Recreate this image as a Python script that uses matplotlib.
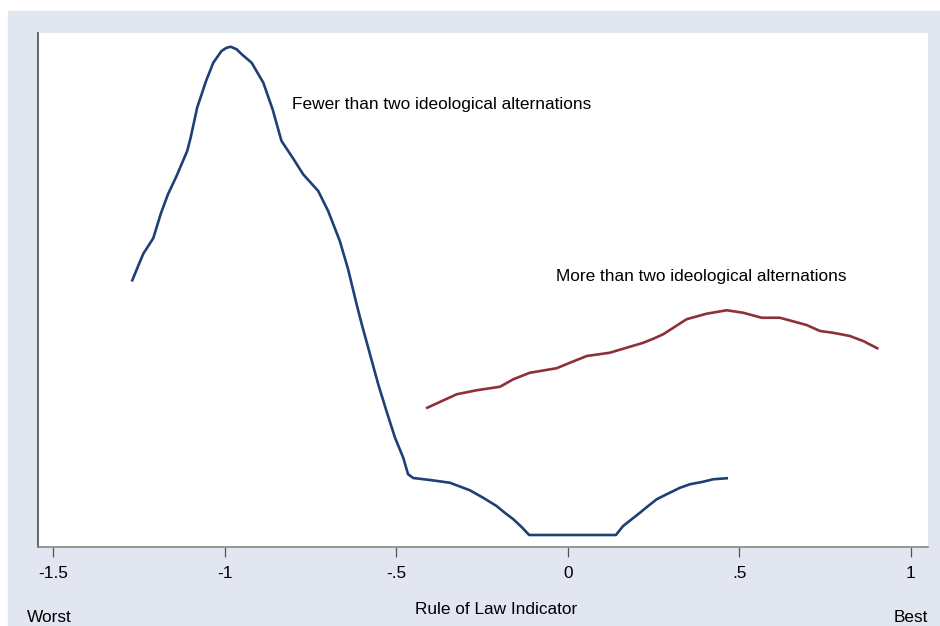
import matplotlib.pyplot as plt
from matplotlib.patches import Rectangle

plt.rcParams['font.family'] = ['Liberation Sans', 'DejaVu Sans']

# Rule of law indicator (x) and kernel density (y)
few_x = [-1.270, -1.253, -1.238, -1.209, -1.187, -1.166, -1.141, -1.110, -1.100,
         -1.081, -1.055, -1.034, -1.010, -0.995, -0.983, -0.966, -0.951, -0.922,
         -0.888, -0.861, -0.835, -0.801, -0.772, -0.728, -0.699, -0.665, -0.641,
         -0.616, -0.601, -0.577, -0.553, -0.529, -0.504, -0.480, -0.466, -0.451,
         -0.402, -0.344, -0.286, -0.247, -0.208, -0.184, -0.159, -0.135, -0.113,
         0.140, 0.161, 0.186, 0.210, 0.234, 0.259, 0.288, 0.327, 0.356, 0.394,
         0.424, 0.463]
few_y = [1.067, 1.124, 1.173, 1.235, 1.333, 1.411, 1.484, 1.584, 1.637, 1.757,
         1.864, 1.937, 1.984, 1.997, 2.001, 1.991, 1.971, 1.937, 1.857, 1.751,
         1.624, 1.554, 1.491, 1.424, 1.344, 1.224, 1.112, 0.971, 0.891, 0.771,
         0.651, 0.544, 0.437, 0.357, 0.291, 0.276, 0.268, 0.257, 0.227, 0.197,
         0.164, 0.137, 0.111, 0.080, 0.048, 0.048, 0.084, 0.111, 0.137, 0.164,
         0.191, 0.211, 0.237, 0.251, 0.261, 0.271, 0.275]

more_x = [-0.410, -0.324, -0.266, -0.198, -0.159, -0.111, -0.033, 0.006, 0.055,
          0.122, 0.220, 0.249, 0.278, 0.346, 0.404, 0.463, 0.511, 0.565, 0.618,
          0.696, 0.735, 0.773, 0.822, 0.861, 0.902]
more_y = [0.557, 0.611, 0.627, 0.641, 0.671, 0.697, 0.715, 0.737, 0.764, 0.777,
          0.817, 0.833, 0.851, 0.911, 0.933, 0.947, 0.937, 0.917, 0.917, 0.888,
          0.864, 0.857, 0.844, 0.824, 0.795]

x_ticks = [-1.5, -1, -0.5, 0, 0.5, 1]
x_tick_labels = ['-1.5', '-1', '-.5', '0', '.5', '1']

fs = 12.4

fig = plt.figure(figsize=(9.4, 6.26), dpi=100)
fig.patches.append(Rectangle((8 / 940, 0), 1, (626 - 11) / 626,
                             transform=fig.transFigure, color='#e1e6f0', zorder=-5))

ax = fig.add_axes([38 / 940, 1 - 547 / 626, 890 / 940, 514 / 626])
ax.set_zorder(1)
ax.set_facecolor('white')
ax.plot(few_x, few_y, color='#1f3f75', lw=1.9)
ax.plot(more_x, more_y, color='#8e3038', lw=1.9)

ax.text(-0.805, 1.77, 'Fewer than two ideological alternations',
        fontsize=fs, va='center', ha='left')
ax.text(-0.035, 1.08, 'More than two ideological alternations',
        fontsize=fs, va='center', ha='left')

ax.set_xlim(-1.545, 1.05)
ax.set_ylim(0, 2.056)
ax.set_xticks(x_ticks)
ax.set_xticklabels(x_tick_labels, fontsize=fs)
ax.set_yticks([])
ax.tick_params(axis='x', length=7, width=0.9, color='#555555', pad=7)
for side in ['top', 'right']:
    ax.spines[side].set_visible(False)
ax.spines['left'].set_color('#666666')
ax.spines['bottom'].set_color('#888888')
ax.spines['left'].set_linewidth(1.4)
ax.spines['bottom'].set_linewidth(1.2)

fig.text(496 / 940, 1 - 609 / 626, 'Rule of Law Indicator', ha='center', va='center', fontsize=fs)
fig.text(27 / 940, 1 - 618 / 626, 'Worst', ha='left', va='center', fontsize=fs)
fig.text(928 / 940, 1 - 618 / 626, 'Best', ha='right', va='center', fontsize=fs)

fig.savefig('out.png', dpi=100, facecolor='white')
